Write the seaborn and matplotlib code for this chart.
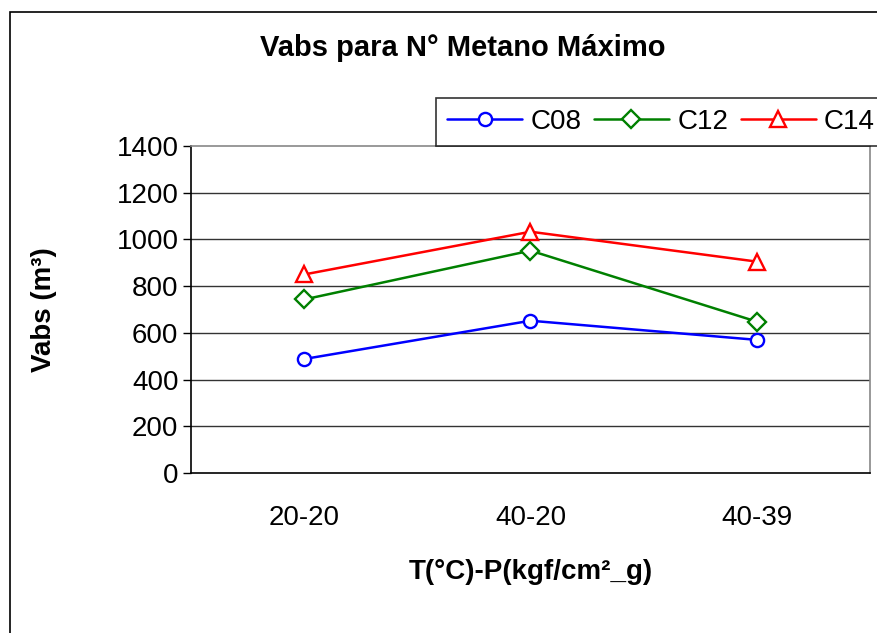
import matplotlib
matplotlib.use("Agg")
import matplotlib.pyplot as plt
import seaborn as sns
import pandas as pd
from matplotlib.patches import Rectangle

categories = ["20-20", "40-20", "40-39"]
series_names = ["C08", "C12", "C14"]
c08 = [488, 652, 570]
c12 = [743, 952, 648]
c14 = [850, 1033, 905]
colors = {"C08": "#0000FF", "C12": "#008000", "C14": "#FF0000"}
markers = {"C08": "o", "C12": "D", "C14": "^"}
yticks = [0, 200, 400, 600, 800, 1000, 1200, 1400]

rows = []
for name, vals in zip(series_names, [c08, c12, c14]):
    for i, (cat, v) in enumerate(zip(categories, vals)):
        rows.append({"cat": cat, "x": i, "series": name, "value": v})
df = pd.DataFrame(rows)

sns.set_style("white")
plt.rcParams["font.family"] = ["Liberation Sans", "DejaVu Sans"]
plt.rcParams["text.color"] = "black"
plt.rcParams["axes.labelcolor"] = "black"
plt.rcParams["xtick.color"] = "black"
plt.rcParams["ytick.color"] = "black"

fig = plt.figure(figsize=(8.78, 6.33), dpi=100)
ax = fig.add_axes([191/878, 1-473/633, (870-191)/878, (473-146)/633])

sns.lineplot(data=df, x="x", y="value", hue="series", style="series",
             palette=colors, markers=markers, dashes=False, ax=ax,
             legend=False, linewidth=1.8, markersize=9, sort=False)

size_map = {"C08": 9.5, "C12": 9, "C14": 11}
for line, name in zip(ax.lines, series_names):
    line.set_markeredgecolor(colors[name])
    line.set_markerfacecolor("white")
    line.set_markeredgewidth(1.7)
    line.set_markersize(size_map[name])
    line.set_label(name)

ax.set_xlim(-0.5, 2.5)
ax.set_ylim(0, 1400)
ax.set_yticks(yticks)
ax.set_yticklabels([str(t) for t in yticks], fontsize=20)
ax.set_xticks(range(len(categories)))
ax.set_xticklabels(categories, fontsize=20)
ax.set_xticks([-0.5, 0.5, 1.5, 2.5], minor=True)
ax.tick_params(axis="x", which="major", length=0, pad=23)
ax.tick_params(axis="x", which="minor", length=9, width=1, color="black", direction="out")
ax.tick_params(axis="y", which="major", length=6, width=1, color="black", direction="out", left=True, pad=3)

for t in yticks[1:-1]:
    ax.axhline(t, color="#333333", linewidth=1, zorder=0)

ax.spines["left"].set_color("black")
ax.spines["bottom"].set_color("black")
ax.spines["top"].set_color("#888888")
ax.spines["right"].set_color("#888888")
for s in ax.spines.values():
    s.set_linewidth(1.2)

ax.set_xlabel("T(°C)-P(kgf/cm²_g)", fontsize=20, fontweight="bold", labelpad=20)
ax.set_ylabel("Vabs (m³)", fontsize=20, fontweight="bold", labelpad=43)

fig.text(463/878, 1-48/633, "Vabs para N° Metano Máximo", fontsize=21,
         fontweight="bold", ha="center", va="center")

leg = ax.legend(handles=ax.lines[:3], labels=series_names, ncol=3,
                loc="lower left", bbox_to_anchor=((436-191)/(870-191), 1.0),
                fontsize=20, frameon=True, fancybox=False, handlelength=2.7,
                handletextpad=0.3, columnspacing=0.45, borderaxespad=0,
                borderpad=0.4)
leg.get_frame().set_edgecolor("black")
leg.get_frame().set_linewidth(1.2)

fig.patches.append(Rectangle((10/878, -0.01), 1.0, 1-12/633 + 0.01,
                             transform=fig.transFigure, fill=False,
                             edgecolor="black", linewidth=1.2))

fig.savefig("out.png", dpi=100)
